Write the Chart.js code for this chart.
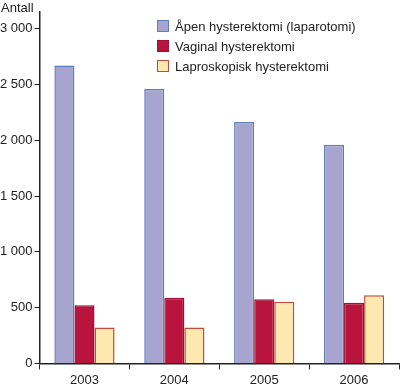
<!DOCTYPE html>
<html>
<head>
<meta charset="utf-8">
<script src="https://cdn.jsdelivr.net/npm/chart.js@4/dist/chart.umd.min.js"></script>
<style>
  html, body { margin: 0; padding: 0; background: #fff; }
  #wrap { position: relative; width: 400px; height: 386px; font-family: "Liberation Sans", Arial, sans-serif; }
  #yTitle { position: absolute; left: 1px; top: 0px; font-size: 13px; color: #222; }
  #legend { position: absolute; left: 157px; top: 19px; font-size: 13px; color: #222; }
  #legend div { height: 20px; line-height: 16px; white-space: nowrap; }
  #legend span.box { display: inline-block; width: 10px; height: 10px; border: 1px solid; vertical-align: -1px; margin-right: 6px; }
</style>
</head>
<body>
<div id="wrap">
  <canvas id="chart" width="400" height="386"></canvas>
  <div id="yTitle">Antall</div>
  <div id="legend"></div>
</div>
<script>
// data
const years = ["2003", "2004", "2005", "2006"];
const aapen = [2670, 2460, 2165, 1960];
const vaginal = [522, 588, 576, 543];
const lapro = [322, 322, 552, 612];
const seriesNames = ["Åpen hysterektomi (laparotomi)", "Vaginal hysterektomi", "Laproskopisk hysterektomi"];
const yTicks = [0, 500, 1000, 1500, 2000, 2500, 3000];

const fills = ["#a7a5cf", "#b8143d", "#fde8b0"];
const borders = ["#5b80b9", "#9c1232", "#c14a3a"];

function fmt(v) {
    return String(v).replace(/\B(?=(\d{3})+(?!\d))/g, " ");
}

const ctx = document.getElementById('chart').getContext('2d');
const chart = new Chart(ctx, {
    type: 'bar',
    data: {
        labels: years,
        datasets: [aapen, vaginal, lapro].map((d, i) => ({
            label: seriesNames[i],
            data: d,
            backgroundColor: fills[i],
            borderColor: borders[i],
            borderWidth: 1.5,
            borderSkipped: 'bottom',
            categoryPercentage: 0.67,
            barPercentage: 1.0
        }))
    },
    options: {
        responsive: false,
        animation: false,
        layout: { padding: { top: 12, right: 1, left: -2, bottom: -5 } },
        plugins: { legend: { display: false }, tooltip: { enabled: false } },
        scales: {
            x: {
                grid: { offset: true, drawOnChartArea: false, color: '#222', tickLength: 6, tickWidth: 1 },
                border: { color: '#222', width: 1.5 },
                ticks: { color: '#222', font: { family: 'Liberation Sans', size: 13 }, padding: 3 }
            },
            y: {
                min: 0,
                max: 3150,
                afterBuildTicks: s => { s.ticks = yTicks.map(v => ({ value: v })); },
                grid: { drawOnChartArea: false, color: '#222', tickLength: 5, tickWidth: 1 },
                border: { color: '#222', width: 1.5 },
                ticks: { color: '#222', font: { family: 'Liberation Sans', size: 13 }, padding: 2, callback: v => fmt(v) }
            }
        }
    }
});

// legend as html
const leg = document.getElementById('legend');
seriesNames.forEach((n, i) => {
    const row = document.createElement('div');
    row.innerHTML = '<span class="box" style="background:' + fills[i] + ';border-color:' + borders[i] + '"></span>' + n;
    leg.appendChild(row);
});
</script>
</body>
</html>
